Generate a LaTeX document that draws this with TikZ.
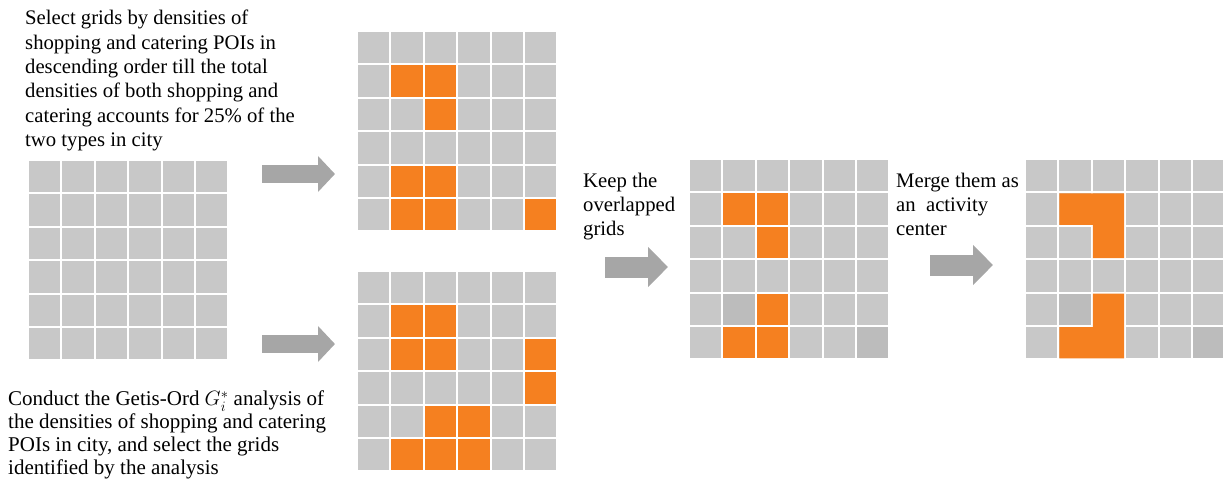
\documentclass[tikz,border=0pt]{standalone}
\usepackage{fontspec}
\setmainfont{Liberation Serif}
\usetikzlibrary{arrows.meta}
\definecolor{cellgray}{RGB}{200,200,200}
\definecolor{darkcell}{RGB}{188,188,188}
\definecolor{hotorange}{RGB}{245,128,32}
\definecolor{arrowgray}{RGB}{166,166,166}

\begin{document}
\begin{tikzpicture}[x=1pt, y=-1pt,
  cell/.style={fill=cellgray},
  hot/.style={fill=hotorange},
  dim/.style={fill=darkcell},
  flow/.style={-{Triangle[length=17pt, width=35pt]}, line width=18pt, draw=arrowgray},
  bigflow/.style={-{Triangle[length=20pt, width=39pt]}, line width=21pt, draw=arrowgray},
  txt/.style={anchor=north west, align=left, inner sep=0pt, font=\fontsize{20.7}{24.4}\selectfont}
]
  \useasboundingbox (0,0) rectangle (1223,485);

  % gray grids: city, ranked, hot spots, overlap, merged
  \foreach \gx/\gy in {28/160, 357/31, 357/271, 689/159, 1025/159}
    \foreach \c in {0,...,5}
      \foreach \r in {0,...,5}
        \fill[cell] ({\gx+\c*33.4+1},{\gy+\r*33.4+1}) rectangle ++(31.4,31.4);

  % selected cells
  \foreach \c/\r in {1/1,2/1,2/2,1/4,2/4,1/5,2/5,5/5}
    \fill[hot] ({357+\c*33.4+1},{31+\r*33.4+1}) rectangle ++(31.4,31.4);
  \foreach \c/\r in {1/1,2/1,1/2,2/2,5/2,5/3,2/4,3/4,1/5,2/5,3/5}
    \fill[hot] ({357+\c*33.4+1},{271+\r*33.4+1}) rectangle ++(31.4,31.4);
  \foreach \c/\r in {1/1,2/1,2/2,2/4,1/5,2/5}
    \fill[hot] ({689+\c*33.4+1},{159+\r*33.4+1}) rectangle ++(31.4,31.4);
  \foreach \gx in {689, 1025}
    \foreach \c/\r in {1/4,5/5}
      \fill[dim] ({\gx+\c*33.4+1},{159+\r*33.4+1}) rectangle ++(31.4,31.4);

  % merged centre
  \fill[hot] (1059.4,193.4) -- (1124.2,193.4) -- (1124.2,258.2) -- (1092.8,258.2)
    -- (1092.8,224.8) -- (1059.4,224.8) -- cycle;
  \fill[hot] (1092.8,293.6) -- (1124.2,293.6) -- (1124.2,358.4) -- (1059.4,358.4)
    -- (1059.4,327.0) -- (1092.8,327.0) -- cycle;

  % labels
  \node[txt] (selecttxt) at (25,10) {Select grids by densities of\\
    shopping and catering POIs in\\
    descending order till the total\\
    densities of both shopping and\\
    catering accounts for 25\% of the\\
    two types in city};
  \node[txt, font=\fontsize{21}{23}\selectfont] (getistxt) at (8,391)
    {Conduct the Getis-Ord $G_i^*$ analysis of\\
    the densities of shopping and catering\\
    POIs in city, and select the grids\\
    identified by the analysis};
  \node[txt, font=\fontsize{20.7}{24}\selectfont] (keeptxt) at (583,173)
    {Keep the\\ overlapped\\ grids};
  \node[txt, font=\fontsize{20.7}{24}\selectfont] (mergetxt) at (896,173)
    {Merge them as\\ an~ activity\\ center};

  % arrows
  \coordinate (rankin)  at (262,174);
  \coordinate (rankout) at (335,174);
  \coordinate (getisin)  at (262,344);
  \coordinate (getisout) at (335,344);
  \coordinate (keepin)  at (605,267);
  \coordinate (keepout) at (668,267);
  \coordinate (mergein)  at (930,265);
  \coordinate (mergeout) at (993,265);
  \draw[flow] (rankin) -- (rankout);
  \draw[flow] (getisin) -- (getisout);
  \draw[bigflow] (keepin) -- (keepout);
  \draw[bigflow] (mergein) -- (mergeout);
\end{tikzpicture}
\end{document}
